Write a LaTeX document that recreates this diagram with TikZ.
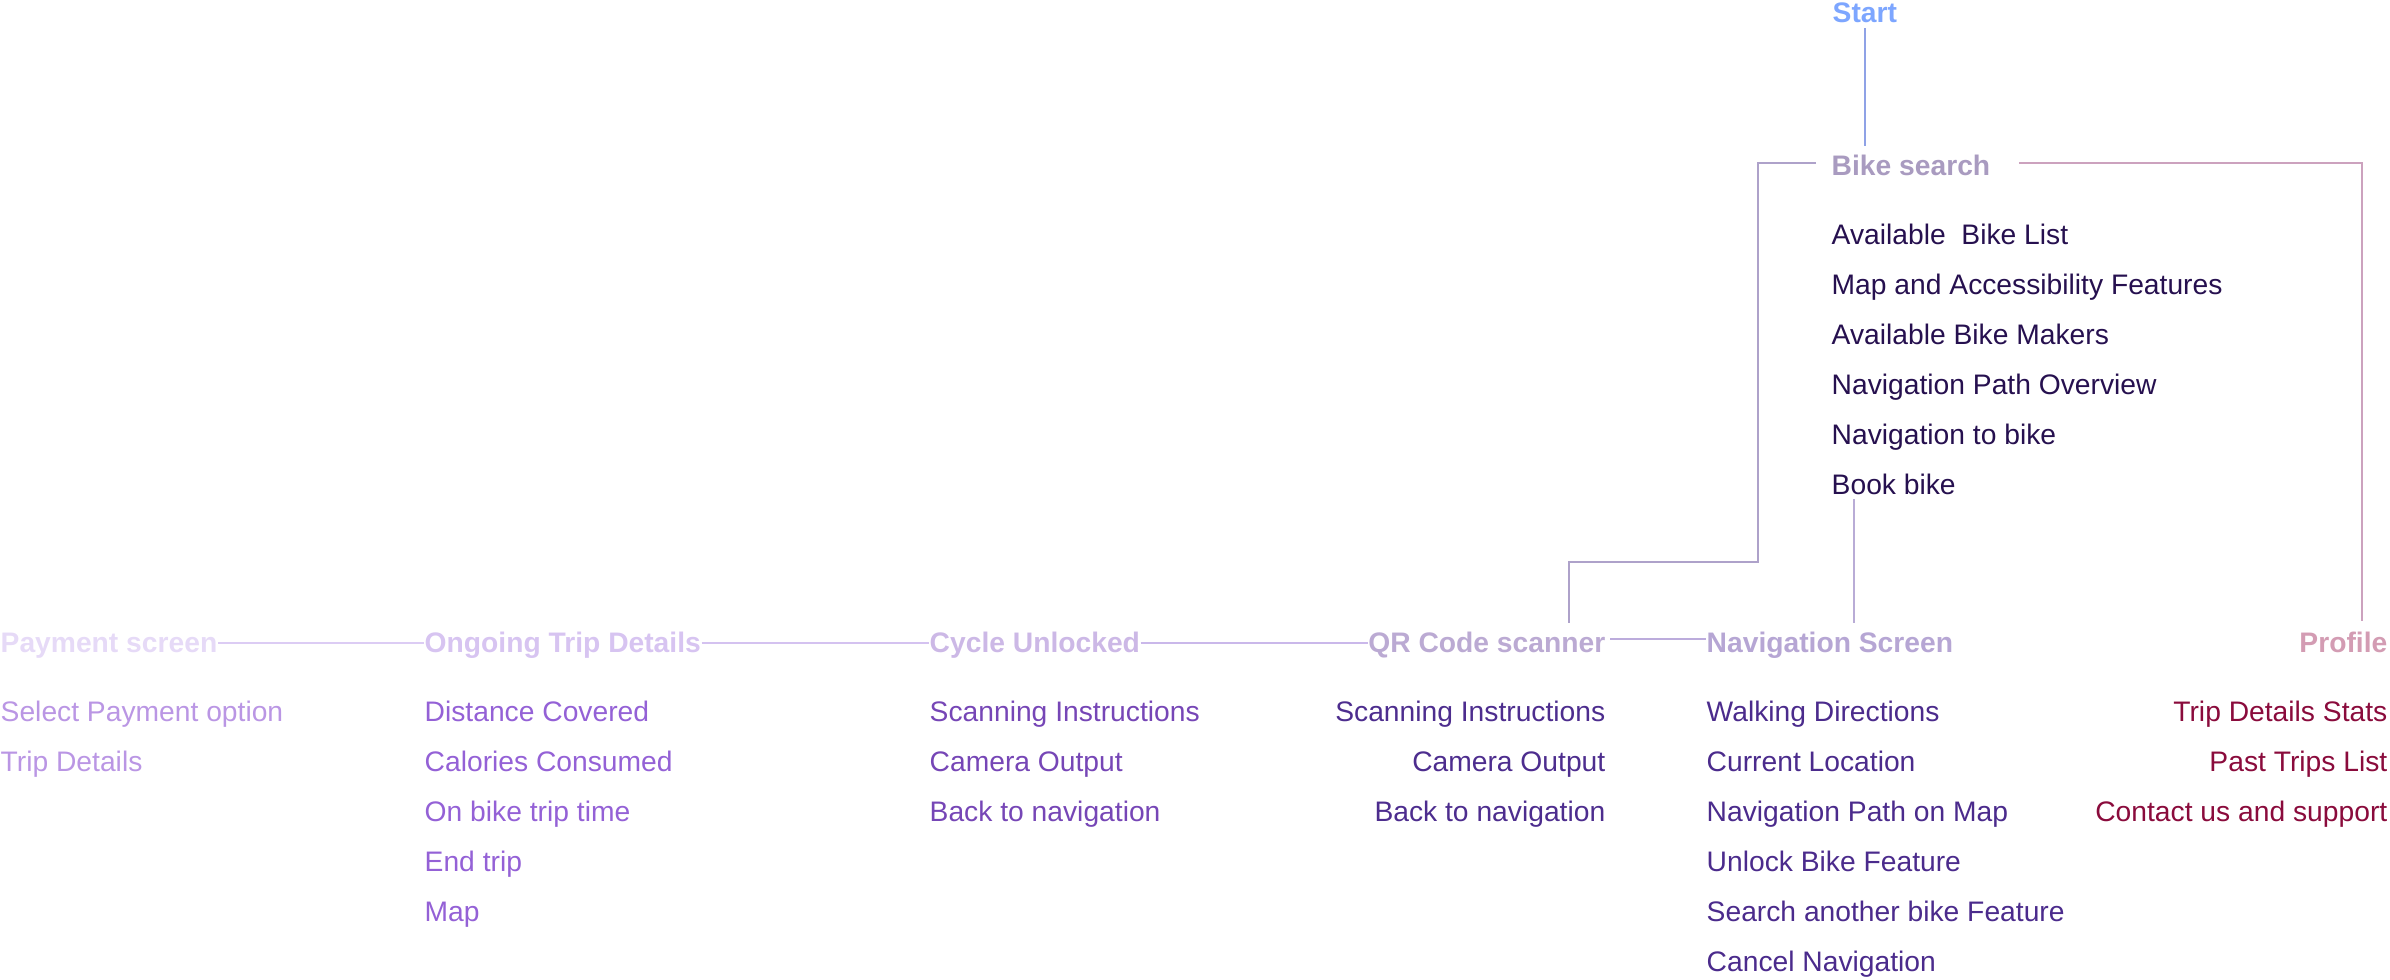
\documentclass[tikz,border=0pt]{standalone}
\usepackage{fontspec}
\setmainfont{Liberation Sans}
\usetikzlibrary{positioning}

\definecolor{startblue}{HTML}{7DA6FF}
\definecolor{startline}{HTML}{8FA2E6}
\definecolor{bikehead}{HTML}{A99BC0}
\definecolor{bikeitem}{HTML}{26104F}
\definecolor{bikeline}{HTML}{AEA2CA}
\definecolor{profline}{HTML}{CCA2BE}
\definecolor{bookline}{HTML}{B9ACD6}
\definecolor{profhead}{HTML}{D39CB3}
\definecolor{profitem}{HTML}{8A0B3C}
\definecolor{navhead}{HTML}{B6A6D4}
\definecolor{navitem}{HTML}{4B2B8C}
\definecolor{qrhead}{HTML}{BBAAD3}
\definecolor{qritem}{HTML}{4D2D8E}
\definecolor{cychead}{HTML}{CCB8E6}
\definecolor{cycitem}{HTML}{7646B6}
\definecolor{onghead}{HTML}{D7C4F1}
\definecolor{ongitem}{HTML}{9461D6}
\definecolor{payhead}{HTML}{E6DAF7}
\definecolor{payitem}{HTML}{BA96E4}
\definecolor{payline}{HTML}{DCCCF4}
\definecolor{ongline}{HTML}{D4C2F0}
\definecolor{cycline}{HTML}{CAB8EA}
\definecolor{qrline}{HTML}{BCACDC}

\tikzset{
    feature/.style={inner sep=0pt, text height=0.2cm, text depth=0pt,
        font=\fontsize{8.03pt}{9.6pt}\selectfont},
    screen/.style={feature, font=\fontsize{8.03pt}{9.6pt}\selectfont\bfseries},
    lfirst/.style={below=0.68cm of #1.west, anchor=west},
    lnext/.style={below=of #1.west, anchor=west},
    rfirst/.style={below=0.68cm of #1.east, anchor=east},
    rnext/.style={below=of #1.east, anchor=east},
    link/.style={line width=0.02cm},
}

\begin{document}
\begin{tikzpicture}[x=0.01cm, y=-0.01cm, node distance=0.5cm, on grid]
    \useasboundingbox (0,0) rectangle (2390,980);

    % top branch
    \node[screen, text=startblue, anchor=west] (start) at (1832,12.5) {Start};
    \node[screen, text=bikehead, anchor=west] (bike) at (1831,166) {Bike search};
    \node[feature, text=bikeitem] (bk1) [lfirst=bike] {Available\ \ Bike List};
    \node[feature, text=bikeitem] (bk2) [lnext=bk1] {Map and Accessibility Features};
    \node[feature, text=bikeitem] (bk3) [lnext=bk2] {Available Bike Makers};
    \node[feature, text=bikeitem] (bk4) [lnext=bk3] {Navigation Path Overview};
    \node[feature, text=bikeitem] (bk5) [lnext=bk4] {Navigation to bike};
    \node[feature, text=bikeitem] (bk6) [lnext=bk5] {Book bike};

    % bottom row
    \node[screen, text=payhead, anchor=west] (pay) at (0,643) {Payment screen};
    \node[feature, text=payitem] (pay1) [lfirst=pay] {Select Payment option};
    \node[feature, text=payitem] (pay2) [lnext=pay1] {Trip Details};

    \node[screen, text=onghead, anchor=west] (ong) at (424,643) {Ongoing Trip Details};
    \node[feature, text=ongitem] (ong1) [lfirst=ong] {Distance Covered};
    \node[feature, text=ongitem] (ong2) [lnext=ong1] {Calories Consumed};
    \node[feature, text=ongitem] (ong3) [lnext=ong2] {On bike trip time};
    \node[feature, text=ongitem] (ong4) [lnext=ong3] {End trip};
    \node[feature, text=ongitem] (ong5) [lnext=ong4] {Map};

    \node[screen, text=cychead, anchor=west] (cyc) at (929,643) {Cycle Unlocked};
    \node[feature, text=cycitem] (cyc1) [lfirst=cyc] {Scanning Instructions};
    \node[feature, text=cycitem] (cyc2) [lnext=cyc1] {Camera Output};
    \node[feature, text=cycitem] (cyc3) [lnext=cyc2] {Back to navigation};

    \node[screen, text=qrhead, anchor=east] (qr) at (1606,643) {QR Code scanner};
    \node[feature, text=qritem] (qr1) [rfirst=qr] {Scanning Instructions};
    \node[feature, text=qritem] (qr2) [rnext=qr1] {Camera Output};
    \node[feature, text=qritem] (qr3) [rnext=qr2] {Back to navigation};

    \node[screen, text=navhead, anchor=west] (nav) at (1706,643) {Navigation Screen};
    \node[feature, text=navitem] (nav1) [lfirst=nav] {Walking Directions};
    \node[feature, text=navitem] (nav2) [lnext=nav1] {Current Location};
    \node[feature, text=navitem] (nav3) [lnext=nav2] {Navigation Path on Map};
    \node[feature, text=navitem] (nav4) [lnext=nav3] {Unlock Bike Feature};
    \node[feature, text=navitem] (nav5) [lnext=nav4] {Search another bike Feature};
    \node[feature, text=navitem] (nav6) [lnext=nav5] {Cancel Navigation};

    \node[screen, text=profhead, anchor=east] (prof) at (2388,643) {Profile};
    \node[feature, text=profitem] (prof1) [rfirst=prof] {Trip Details Stats};
    \node[feature, text=profitem] (prof2) [rnext=prof1] {Past Trips List};
    \node[feature, text=profitem] (prof3) [rnext=prof2] {Contact us and support};

    % line ends above the headers
    \coordinate (qrin) at (1569,623);
    \coordinate (navin) at (1854,623);
    \coordinate (profin) at (2362,621);

    \draw[link, startline, shorten <=0.05cm, shorten >=0.09cm] (start.south) -- (start.south |- bike.north);
    \draw[link, bikeline] ([xshift=-0.15cm, yshift=0.03cm]bike.west) -| (1758,562) -| (qrin);
    \draw[link, profline] ([xshift=0.28cm, yshift=0.03cm]bike.east) -| (profin);
    \draw[link, bookline, shorten <=0.04cm] (navin |- bk6.south) -- (navin);

    \path[link]
    (pay) edge[payline] (ong)
    (ong) edge[ongline] (cyc)
    (cyc) edge[cycline] (qr)
    ;
    \draw[link, qrline] ([xshift=0.04cm, yshift=0.04cm]qr.east) -- ([yshift=0.04cm]nav.west);
\end{tikzpicture}
\end{document}
